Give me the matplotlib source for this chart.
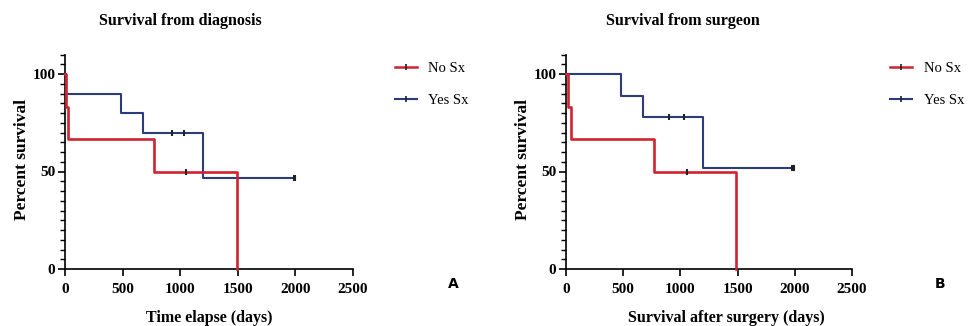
import matplotlib.pyplot as plt
from matplotlib.ticker import MultipleLocator
from matplotlib.lines import Line2D

# Panel A - survival from diagnosis
a_no_t = [0, 10, 30, 770, 1490]
a_no_s = [100, 83.3, 66.7, 50, 0]
a_no_cens_t = [1050]
a_no_cens_s = [50]

a_yes_t = [0, 5, 490, 680, 1200, 2000]
a_yes_s = [100, 90, 80, 70, 46.7, 46.7]
a_yes_cens_t = [931, 1033, 1985, 2000]
a_yes_cens_s = [70, 70, 46.7, 46.7]

# Panel B - survival from surgeon
b_no_t = [0, 15, 40, 772, 1490]
b_no_s = [100, 83.3, 66.7, 50, 0]
b_no_cens_t = [1060]
b_no_cens_s = [50]

b_yes_t = [0, 480, 676, 1200, 1990]
b_yes_s = [100, 88.9, 77.8, 51.9, 51.9]
b_yes_cens_t = [903, 1031, 1975, 1990]
b_yes_cens_s = [77.8, 77.8, 51.9, 51.9]

titles = ["Survival from diagnosis", "Survival from surgeon"]
xlabels = ["Time elapse (days)", "Survival after surgery (days)"]
xlabel_pos = [0.5, 0.56]
panel_letters = ["A", "B"]
series_labels = ["No Sx", "Yes Sx"]

red = "#cf2331"
blue = "#2b3b7c"
serif = ["Liberation Serif", "DejaVu Serif"]

fig = plt.figure(figsize=(9.72, 3.26), dpi=100)
ax_a = fig.add_axes([65 / 972, 1 - 269 / 326, 288 / 972, 214.5 / 326])
ax_b = fig.add_axes([566 / 972, 1 - 269 / 326, 286 / 972, 214.5 / 326])

panels = [
    (ax_a, a_no_t, a_no_s, a_no_cens_t, a_no_cens_s, a_yes_t, a_yes_s, a_yes_cens_t, a_yes_cens_s),
    (ax_b, b_no_t, b_no_s, b_no_cens_t, b_no_cens_s, b_yes_t, b_yes_s, b_yes_cens_t, b_yes_cens_s),
]
legend_x = [1.10, 1.087]

for i, (ax, nt, ns, nct, ncs, yt, ys, yct, ycs) in enumerate(panels):
    ax.step(yt, ys, where="post", color=blue, lw=1.5, clip_on=False, zorder=3)
    ax.plot(yct, ycs, ls="none", marker="|", ms=5, mew=1.5, color="#222222", zorder=4)
    ax.step(nt, ns, where="post", color=red, lw=1.9, clip_on=False, zorder=5)
    ax.plot(nct, ncs, ls="none", marker="|", ms=5, mew=1.5, color="#222222", zorder=6)

    ax.set_xlim(0, 2500)
    ax.set_ylim(0, 110)
    ax.xaxis.set_major_locator(MultipleLocator(500))
    ax.yaxis.set_major_locator(MultipleLocator(50))
    ax.yaxis.set_minor_locator(MultipleLocator(5))
    ax.spines["top"].set_visible(False)
    ax.spines["right"].set_visible(False)
    ax.spines["left"].set_linewidth(1.2)
    ax.spines["bottom"].set_linewidth(1.2)
    ax.tick_params(axis="both", which="major", length=5, width=1.2, pad=2)
    ax.tick_params(axis="x", which="major", pad=5)
    ax.tick_params(axis="y", which="minor", length=3.5, width=1.0)
    for lab in ax.get_xticklabels() + ax.get_yticklabels():
        lab.set_fontfamily(serif)
        lab.set_fontweight("bold")
        lab.set_fontsize(11)

    ax.set_title(titles[i], fontfamily=serif, fontweight="bold", fontsize=11.5,
                 x=0.40 + 0.01 * i, y=1.1)
    ax.set_ylabel("Percent survival", fontfamily=serif, fontweight="bold", fontsize=12.5,
                  va="center")
    ax.yaxis.set_label_coords(-0.15, 0.51)
    ax.set_xlabel(xlabels[i], fontfamily=serif, fontweight="bold", fontsize=11.5,
                  va="center")
    ax.xaxis.set_label_coords(xlabel_pos[i], -0.228)

    handles = [
        Line2D([], [], color=red, lw=1.8, marker="|", ms=5, mew=1.2, mec="#222222"),
        Line2D([], [], color=blue, lw=1.5, marker="|", ms=5, mew=1.2, mec="#222222"),
    ]
    ax.legend(handles, series_labels, loc="upper left", bbox_to_anchor=(legend_x[i], 1.025),
              frameon=False, handlelength=1.5, handletextpad=0.8, labelspacing=1.25,
              numpoints=1, prop={"family": serif, "size": 10.5})

fig.text(453 / 972, 1 - 284 / 326, panel_letters[0], fontsize=10, fontweight="bold",
         ha="center", va="center")
fig.text(940 / 972, 1 - 284 / 326, panel_letters[1], fontsize=10, fontweight="bold",
         ha="center", va="center")

fig.savefig("out.png", dpi=100)
